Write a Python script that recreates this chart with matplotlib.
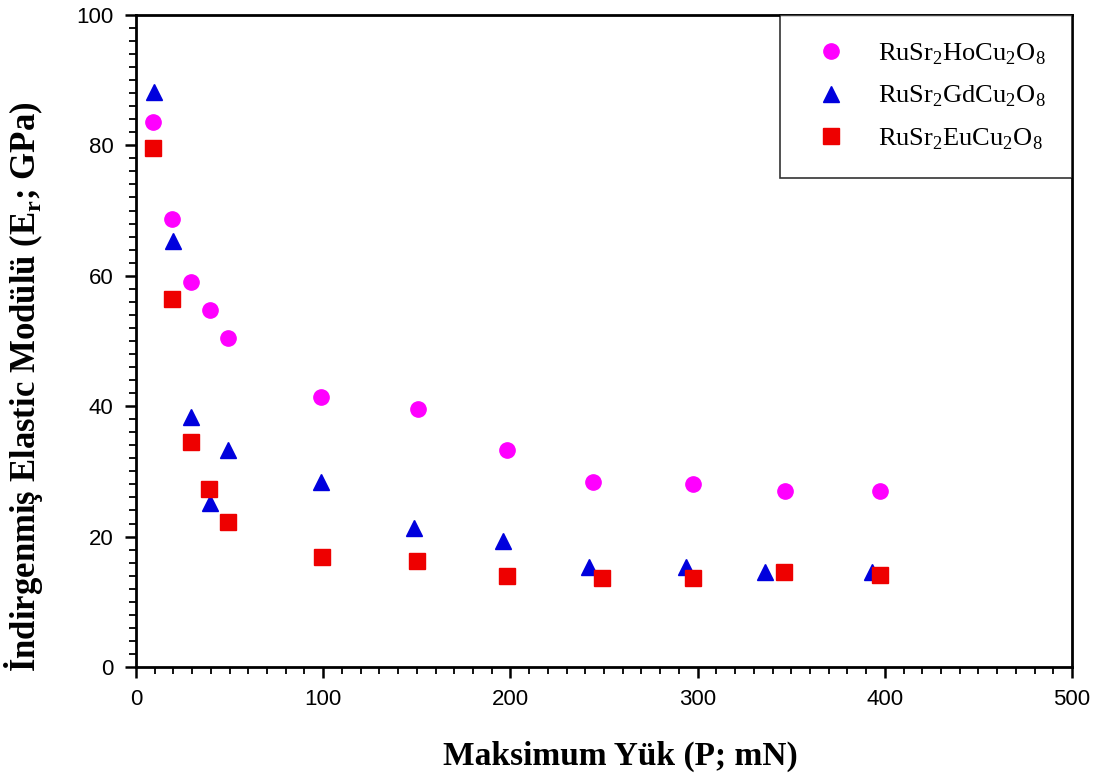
import numpy as np
import matplotlib.pyplot as plt

plt.rcParams['mathtext.fontset'] = 'custom'
plt.rcParams['mathtext.rm'] = 'Liberation Serif'
plt.rcParams['mathtext.bf'] = 'Liberation Serif:bold'

# RuSr2HoCu2O8
x_ho = [9.1, 19.2, 29.4, 39.5, 49.1, 99.0, 150.8, 198.0, 244.3, 297.7, 346.7, 397.4]
y_ho = [83.6, 68.7, 59.0, 54.8, 50.5, 41.4, 39.5, 33.3, 28.4, 28.0, 27.0, 27.0]

# RuSr2GdCu2O8
x_gd = [9.6, 19.6, 29.4, 39.5, 49.0, 98.7, 148.5, 195.9, 242.0, 293.6, 336.0, 393.0]
y_gd = [88.2, 65.4, 38.4, 25.2, 33.3, 28.4, 21.3, 19.3, 15.4, 15.4, 14.5, 14.5]

# RuSr2EuCu2O8
x_eu = [9.3, 19.4, 29.4, 39.0, 49.0, 99.5, 150.3, 198.0, 248.8, 297.7, 346.3, 397.4]
y_eu = [79.6, 56.5, 34.5, 27.3, 22.3, 16.9, 16.3, 14.0, 13.7, 13.7, 14.5, 14.1]

fig = plt.figure(figsize=(11, 7.8), dpi=100)
ax = fig.add_axes([0.1236, 0.1449, 0.851, 0.836])

ax.plot(x_ho, y_ho, 'o', color='#ff00ff', ms=11, mec='#ff00ff', label=r'RuSr$_2$HoCu$_2$O$_8$')
ax.plot(x_gd, y_gd, '^', color='#0000dd', ms=12, mec='#0000dd', label=r'RuSr$_2$GdCu$_2$O$_8$')
ax.plot(x_eu, y_eu, 's', color='#ee0000', ms=11, mec='#ee0000', label=r'RuSr$_2$EuCu$_2$O$_8$')

ax.set_xlim(0, 500)
ax.set_ylim(0, 100)
ax.set_xticks(np.arange(0, 501, 100))
ax.set_yticks(np.arange(0, 101, 20))
ax.set_xticks(np.arange(0, 501, 10), minor=True)
ax.set_yticks(np.arange(0, 101, 2), minor=True)
ax.tick_params(which='major', direction='out', length=8, width=1.8, labelsize=16, pad=8)
ax.tick_params(which='minor', direction='out', length=5, width=1.3)
for lab in ax.get_xticklabels() + ax.get_yticklabels():
    lab.set_fontfamily('Liberation Sans')
for s in ax.spines.values():
    s.set_linewidth(2)

ax.set_xlabel('Maksimum Yük (P; mN)', fontsize=24, fontweight='bold',
              family='Liberation Serif')
ax.set_ylabel(r'İndirgenmiş Elastic Modülü (E$_\mathbf{r}$; GPa)', fontsize=25,
              fontweight='bold', family='Liberation Serif')
ax.xaxis.set_label_coords(0.517, -0.113)
ax.yaxis.set_label_coords(-0.097, 0.43)

leg = ax.legend(loc='upper right', borderaxespad=0, fancybox=False, frameon=True,
                prop={'family': 'Liberation Serif', 'size': 19}, borderpad=1.0,
                labelspacing=0.65, handletextpad=0.9, handlelength=1.8,
                edgecolor='black')
leg.get_frame().set_linewidth(1.2)

fig.savefig('out.png', dpi=100)
